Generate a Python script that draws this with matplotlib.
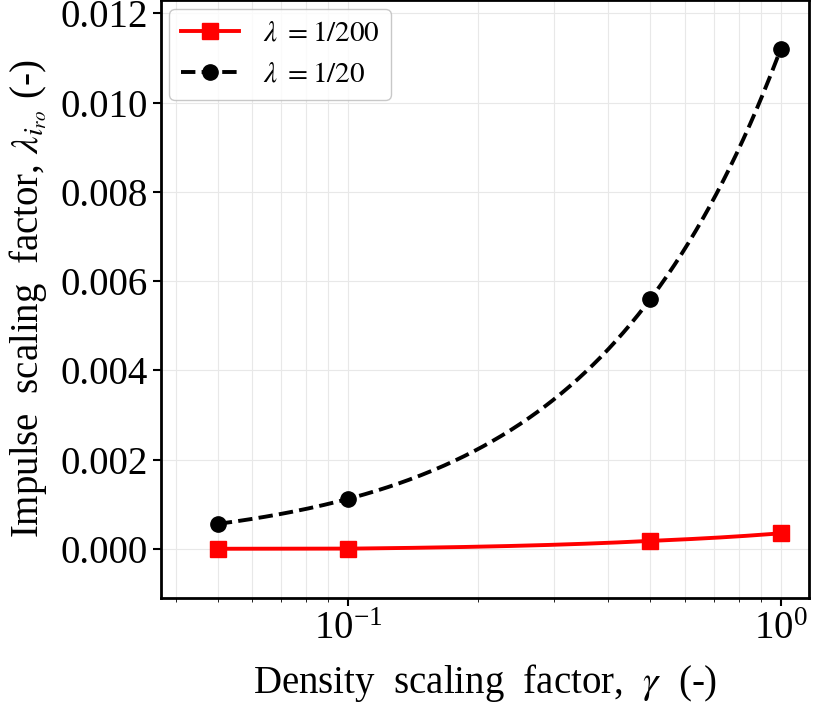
import numpy as np
import matplotlib
matplotlib.use("Agg")
import matplotlib.pyplot as plt

plt.rcParams['font.family'] = ['Liberation Serif', 'DejaVu Serif']
plt.rcParams['mathtext.fontset'] = 'stix'

gamma = [0.05, 0.1, 0.5, 1.0]
lam_200 = [0.0000028, 0.0000056, 0.00018, 0.00035]
lam_20 = [0.00056, 0.00112, 0.0056, 0.0112]

fig = plt.figure(figsize=(8.37, 7.06), dpi=100)
ax = fig.add_axes([0.192, 0.153, 0.774, 0.847])
ax.set_xscale('log')

g = np.asarray(gamma)
dense = np.linspace(g.min(), g.max(), 400)
for y, col, ls, mk, lab in [(lam_200, 'red', '-', 's', r'$\lambda\ = 1/200$'),
                            (lam_20, 'black', '--', 'o', r'$\lambda\ = 1/20$')]:
    ax.plot(dense, np.interp(dense, g, y), color=col, ls=ls, lw=2.8)
    ax.plot(gamma, y, ls='none', marker=mk, color=col, ms=11)
    ax.plot([], [], color=col, ls=ls, lw=2.8, marker=mk, ms=11, label=lab)

ax.set_xlim(0.0369, 1.16)
ax.set_ylim(-0.0011, 0.0123)
ax.set_yticks([0, 0.002, 0.004, 0.006, 0.008, 0.010, 0.012])
ax.set_yticklabels(['0.000', '0.002', '0.004', '0.006', '0.008', '0.010', '0.012'])
ax.tick_params(labelsize=28, width=1.5, length=6)
ax.tick_params(which='minor', length=3)
ax.grid(True, which='both', color='#e8e8e8', lw=0.8)
for s in ax.spines.values():
    s.set_linewidth(2)
ax.set_xlabel(r'Density  scaling  factor,  $\gamma$  (-)', fontsize=28, labelpad=10)
ax.set_ylabel(r'Impulse  scaling  factor, $\lambda_{i_{ro}}$ (-)', fontsize=28, labelpad=8)
leg = ax.legend(loc='upper left', fontsize=21, frameon=True, fancybox=True, edgecolor='#bbbbbb',
                borderaxespad=0.3)
fig.savefig('out.png', dpi=100)
